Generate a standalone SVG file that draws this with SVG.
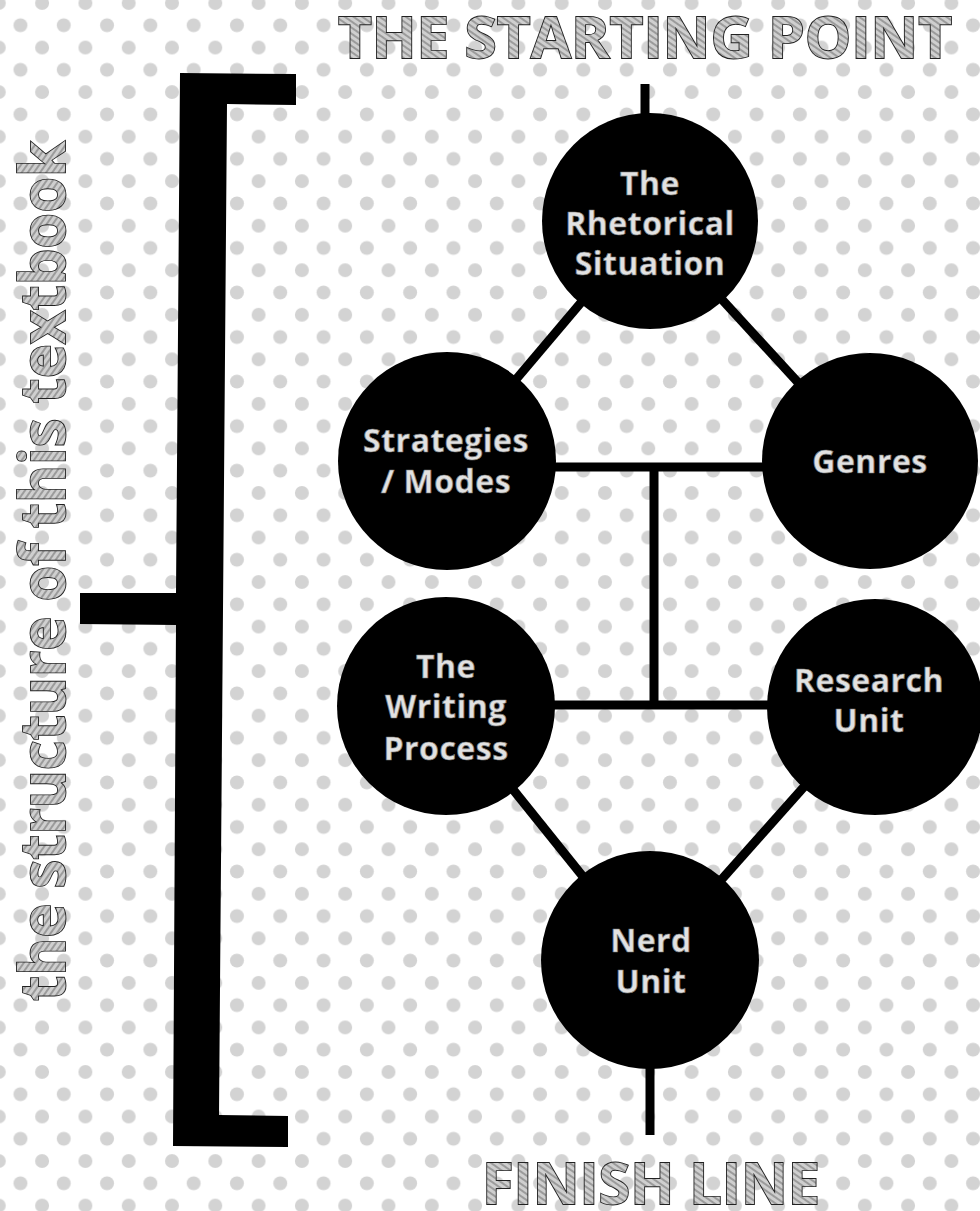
<svg xmlns="http://www.w3.org/2000/svg" width="980" height="1211" viewBox="0 0 980 1211">
  <defs>
    <pattern id="dots" patternUnits="userSpaceOnUse" x="-1.2" y="3" width="43.3" height="44.54">
      <circle cx="0" cy="0" r="7" fill="#d3d3d3"/>
      <circle cx="43.3" cy="0" r="7" fill="#d3d3d3"/>
      <circle cx="0" cy="44.54" r="7" fill="#d3d3d3"/>
      <circle cx="43.3" cy="44.54" r="7" fill="#d3d3d3"/>
      <circle cx="21.65" cy="22.27" r="7" fill="#d3d3d3"/>
    </pattern>
    <pattern id="chalk" patternUnits="userSpaceOnUse" width="5" height="5" patternTransform="rotate(35)">
      <rect width="5" height="5" fill="#cfcfcf"/>
      <line x1="0" y1="1" x2="5" y2="1" stroke="#5a5a5a" stroke-width="0.9"/>
    </pattern>
  </defs>
  <style>
    .big { font-family: "Open Sans", "Liberation Sans", sans-serif; font-weight: 700; fill: url(#chalk); stroke: #222; stroke-width: 1.8; paint-order: stroke; }
    .lbl { font-family: "Open Sans", "Liberation Sans", sans-serif; font-weight: 700; font-size: 32px; letter-spacing: 0.5px; fill: #e2e2e2; stroke: #7a7a7a; stroke-width: 0.7; text-anchor: middle; }
    .node { fill: #000; }
    .conn { stroke: #000; stroke-width: 9; fill: none; }
  </style>
  <rect width="980" height="1211" fill="#fff"/>
  <rect width="980" height="1211" fill="url(#dots)"/>

  <g id="bracket">
    <polygon fill="#000" points="180,73 296,74 296,105 227,104 219,1115 288,1116 288,1147 173,1146 176,625 80,624 80,593 176,593"/>
  </g>

  <text class="big" x="645" y="58" font-size="57" text-anchor="middle" textLength="614" lengthAdjust="spacingAndGlyphs">THE STARTING POINT</text>
  <text class="big" x="651" y="1204" font-size="57" text-anchor="middle" textLength="338" lengthAdjust="spacingAndGlyphs">FINISH LINE</text>
  <text class="big" transform="translate(65,571) rotate(-90)" font-size="62" text-anchor="middle" textLength="860" lengthAdjust="spacingAndGlyphs">the structure of this textbook</text>

  <g id="connectors">
    <line class="conn" x1="645" y1="84" x2="645" y2="125"/>
    <line class="conn" x1="650" y1="221" x2="447" y2="461"/>
    <line class="conn" x1="650" y1="221" x2="870" y2="461"/>
    <line class="conn" x1="540" y1="467" x2="780" y2="467"/>
    <line class="conn" x1="654" y1="467" x2="654" y2="706"/>
    <line class="conn" x1="540" y1="705" x2="780" y2="705"/>
    <line class="conn" x1="446" y1="706" x2="650" y2="960"/>
    <line class="conn" x1="875" y1="707" x2="650" y2="960"/>
    <line class="conn" x1="650" y1="1050" x2="650" y2="1135"/>
  </g>

  <g id="rhetorical-situation">
    <circle class="node" cx="650" cy="221" r="108"/>
    <text class="lbl" x="650" y="195">The</text>
    <text class="lbl" x="650" y="235">Rhetorical</text>
    <text class="lbl" x="650" y="275">Situation</text>
  </g>
  <g id="strategies-modes">
    <circle class="node" cx="447" cy="461" r="109"/>
    <text class="lbl" x="446" y="452">Strategies</text>
    <text class="lbl" x="446" y="493">/ Modes</text>
  </g>
  <g id="genres">
    <circle class="node" cx="870" cy="461" r="108"/>
    <text class="lbl" x="870" y="473">Genres</text>
  </g>
  <g id="writing-process">
    <circle class="node" cx="446" cy="706" r="109"/>
    <text class="lbl" x="446" y="678">The</text>
    <text class="lbl" x="446" y="718">Writing</text>
    <text class="lbl" x="446" y="760">Process</text>
  </g>
  <g id="research-unit">
    <circle class="node" cx="875" cy="707" r="108"/>
    <text class="lbl" x="869" y="692">Research</text>
    <text class="lbl" x="869" y="732">Unit</text>
  </g>
  <g id="nerd-unit">
    <circle class="node" cx="650" cy="960" r="109"/>
    <text class="lbl" x="651" y="952">Nerd</text>
    <text class="lbl" x="651" y="993">Unit</text>
  </g>
</svg>
